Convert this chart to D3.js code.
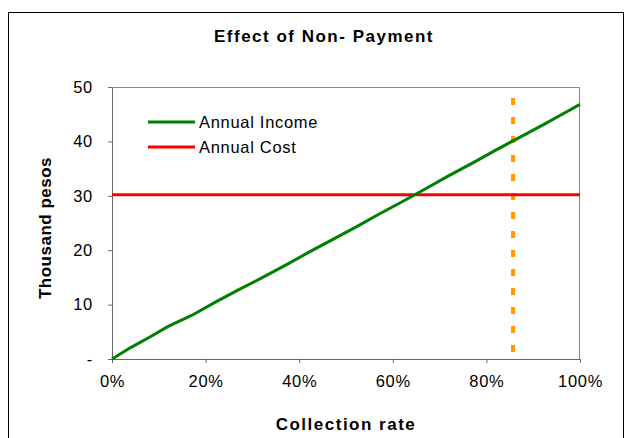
<!DOCTYPE html>
<html>
<head>
<script src="https://d3js.org/d3.v7.min.js"></script>
<style>
  body{margin:0;background:#fff;}
  text{font-family:"Liberation Sans",Arial,sans-serif;}
  .title,.axis-title{font-weight:bold;font-size:17px;letter-spacing:1.5px;}
  .tick text{font-size:16.5px;fill:#000;letter-spacing:0.7px;}
</style>
</head>
<body>
<script>
// collection rate (%) and annual income (thousand pesos)
const rate = [0, 4, 8, 12, 17, 22, 27, 32, 37, 42, 47, 52, 57, 62, 67, 72, 77, 82, 87, 92, 96, 100];
const income = [0, 2.1, 4.0, 6.0, 8.0, 10.4, 12.7, 14.9, 17.2, 19.6, 21.9, 24.2, 26.6, 28.9, 31.3, 33.7, 36.0, 38.4, 40.7, 43.0, 44.9, 46.8];
const cost = 30.2;
const marker = 85.7; // orange reference line
const yTicks = [0, 10, 20, 30, 40, 50];
const xTicks = [0, 20, 40, 60, 80, 100];
const seriesNames = ["Annual Income", "Annual Cost"];
const colors = ["#008000", "#ff0000"];

const w = 629, h = 438;
const margin = {left:112, right:49, top:87, bottom:79};
const innerW = w - margin.left - margin.right;
const innerH = h - margin.top - margin.bottom;

const svg = d3.select("body").append("svg").attr("width", w).attr("height", h);

// outer chart border
svg.append("rect").attr("x", 8.5).attr("y", 12.5).attr("width", 615).attr("height", 440)
  .attr("fill", "none").attr("stroke", "#000");

svg.append("text").attr("class", "title").attr("x", 324).attr("y", 42)
  .attr("text-anchor", "middle").text("Effect of Non- Payment");

const x = d3.scaleLinear().domain([0, 100]).range([0, innerW]);
const y = d3.scaleLinear().domain([0, 50]).range([innerH, 0]);

const g = svg.append("g").attr("transform", "translate(" + margin.left + "," + margin.top + ")");

// plot border top/right
g.append("path").attr("d", "M0,0.5H" + (innerW - 0.5) + "V" + innerH)
  .attr("fill", "none").attr("stroke", "#888");

const yAxis = d3.axisLeft(y).tickValues(yTicks).tickSizeInner(4).tickSizeOuter(4)
  .tickFormat(d => d === 0 ? "-" : d);
const yg = g.append("g").call(yAxis);
yg.selectAll("text").attr("x", -19);
yg.select(".domain").attr("stroke", "#666");
yg.selectAll(".tick line").attr("stroke", "#666");

const xAxis = d3.axisBottom(x).tickValues(xTicks).tickSizeInner(4).tickSizeOuter(0)
  .tickFormat(d => d + "%");
const xg = g.append("g").attr("transform", "translate(0," + innerH + ")").call(xAxis);
xg.selectAll("text").attr("y", 16);
xg.select(".domain").attr("stroke", "#666");
xg.selectAll(".tick line").attr("stroke", "#666");

// marker line
g.append("line").attr("x1", x(marker)).attr("x2", x(marker))
  .attr("y1", y(48)).attr("y2", innerH)
  .attr("stroke", "#ff9900").attr("stroke-width", 4).attr("stroke-dasharray", "7,12");

// cost line
g.append("line").attr("x1", x(0)).attr("x2", x(100)).attr("y1", y(cost)).attr("y2", y(cost))
  .attr("stroke", colors[1]).attr("stroke-width", 3);

// income line
const line = d3.line().x((d, i) => x(rate[i])).y(d => y(d));
g.append("path").datum(income).attr("d", line)
  .attr("fill", "none").attr("stroke", colors[0]).attr("stroke-width", 3);

// legend
const leg = svg.append("g").attr("transform", "translate(148,122)");
seriesNames.forEach(function(name, i){
  leg.append("line").attr("x1", 0).attr("x2", 47).attr("y1", i * 25).attr("y2", i * 25)
    .attr("stroke", colors[i]).attr("stroke-width", 3);
  leg.append("text").attr("x", 51).attr("y", i * 25 + 6).attr("font-size", 16.5)
    .attr("letter-spacing", 0.7).text(name);
});

svg.append("text").attr("class", "axis-title").attr("x", 346).attr("y", 430)
  .attr("text-anchor", "middle").text("Collection rate");
svg.append("text").attr("class", "axis-title")
  .attr("transform", "translate(51,228) rotate(-90)")
  .attr("letter-spacing", 0.5).style("letter-spacing", "0.5px")
  .attr("text-anchor", "middle").text("Thousand pesos");
</script>
</body>
</html>
